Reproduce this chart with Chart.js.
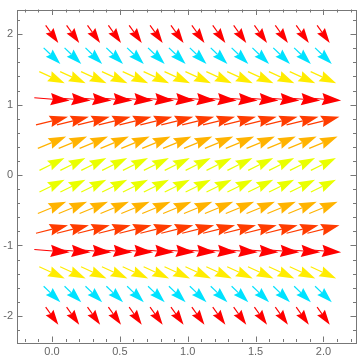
<!DOCTYPE html>
<html>
<head>
<meta charset="utf-8">
<script src="https://cdn.jsdelivr.net/npm/chart.js@4/dist/chart.umd.min.js"></script>
<style>
  html, body { margin: 0; padding: 0; background: #fff; }
  #wrap { width: 360px; height: 360px; }
</style>
</head>
<body>
<div id="wrap"><canvas id="field"></canvas></div>
<script>
'use strict';

// grid of sample points
const xValues = [0, 0.154, 0.308, 0.462, 0.615, 0.769, 0.923, 1.077, 1.231, 1.385, 1.538, 1.692, 1.846, 2];
const yValues = [2, 1.692, 1.385, 1.077, 0.769, 0.462, 0.154, -0.154, -0.462, -0.769, -1.077, -1.385, -1.692, -2];

// vector components per row (field only depends on y)
const rowU = [0.093, 0.123, 0.188, 0.261, 0.236, 0.209, 0.185, 0.185, 0.209, 0.236, 0.261, 0.188, 0.123, 0.093];
const rowV = [-0.25, -0.228, -0.166, -0.04, 0.115, 0.167, 0.175, 0.175, 0.167, 0.115, -0.04, -0.166, -0.228, -0.25];
const rowColors = ['#ff0000', '#00e2ff', '#ffec00', '#ff0000', '#ff3c00', '#ffb300', '#eaff00',
                   '#eaff00', '#ffb300', '#ff3c00', '#ff0000', '#ffec00', '#00e2ff', '#ff0000'];

// tick labels
const xTickValues = [0, 0.5, 1, 1.5, 2];
const yTickValues = [-2, -1, 0, 1, 2];

const FRAME = '#777777';
const LABEL = '#666666';

// ==================== ARROWS ====================

const arrowPlugin = {
    id: 'arrows',
    afterDatasetsDraw(chart) {
        const { ctx, scales: { x, y } } = chart;
        ctx.save();
        chart.data.datasets.forEach((ds, r) => {
            const u = rowU[r], v = rowV[r];
            ds.data.forEach(p => {
                const x0 = x.getPixelForValue(p.x - u / 2);
                const y0 = y.getPixelForValue(p.y - v / 2);
                const x1 = x.getPixelForValue(p.x + u / 2);
                const y1 = y.getPixelForValue(p.y + v / 2);
                drawArrow(ctx, x0, y0, x1, y1, ds.borderColor);
            });
        });
        ctx.restore();
    }
};

function drawArrow(ctx, x0, y0, x1, y1, color) {
    const dx = x1 - x0, dy = y1 - y0;
    const len = Math.hypot(dx, dy);
    const ux = dx / len, uy = dy / len;
    const px = -uy, py = ux;
    const head = 0.3 * len + 8.5;
    const half = head * 0.32;
    const bx = x1 - ux * head, by = y1 - uy * head;
    const nx = x1 - ux * head * 0.88, ny = y1 - uy * head * 0.88;

    ctx.strokeStyle = color;
    ctx.fillStyle = color;
    ctx.lineWidth = 1.2;
    ctx.beginPath();
    ctx.moveTo(x0, y0);
    ctx.lineTo(nx, ny);
    ctx.stroke();

    ctx.beginPath();
    ctx.moveTo(x1, y1);
    ctx.lineTo(bx + px * half, by + py * half);
    ctx.lineTo(nx, ny);
    ctx.lineTo(bx - px * half, by - py * half);
    ctx.closePath();
    ctx.fill();
}

// ==================== FRAME + TICKS ====================

const framePlugin = {
    id: 'frame',
    afterDraw(chart) {
        const { ctx, chartArea: a, scales: { x, y } } = chart;
        ctx.save();
        ctx.strokeStyle = FRAME;
        ctx.lineWidth = 1;
        ctx.strokeRect(Math.round(a.left) + 0.5, Math.round(a.top) + 0.5,
                       Math.round(a.right - a.left), Math.round(a.bottom - a.top));
        ctx.beginPath();
        for (let i = -2; i <= 22; i++) {
            const v = i / 10;
            const px = Math.round(x.getPixelForValue(v)) + 0.5;
            if (px <= a.left + 1 || px >= a.right - 1) continue;
            const l = i % 5 === 0 ? 5.5 : 3;
            ctx.moveTo(px, a.bottom); ctx.lineTo(px, a.bottom - l);
            ctx.moveTo(px, a.top); ctx.lineTo(px, a.top + l);
        }
        for (let i = -11; i <= 11; i++) {
            const v = i / 5;
            const py = Math.round(y.getPixelForValue(v)) + 0.5;
            if (py <= a.top + 1 || py >= a.bottom - 1) continue;
            const l = i % 5 === 0 ? 5.5 : 3;
            ctx.moveTo(a.left, py); ctx.lineTo(a.left + l, py);
            ctx.moveTo(a.right, py); ctx.lineTo(a.right - l, py);
        }
        ctx.stroke();
        ctx.restore();
    }
};

// ==================== CHART ====================

const datasets = yValues.map((yv, r) => ({
    data: xValues.map(xv => ({ x: xv, y: yv })),
    borderColor: rowColors[r],
    backgroundColor: rowColors[r],
    pointRadius: 0,
    showLine: false
}));

const tickFont = { family: 'Liberation Sans', size: 11, lineHeight: 1 };

new Chart(document.getElementById('field').getContext('2d'), {
    type: 'scatter',
    data: { datasets },
    plugins: [arrowPlugin, framePlugin],
    options: {
        responsive: true,
        maintainAspectRatio: false,
        devicePixelRatio: 1,
        animation: false,
        layout: { padding: { top: 2, right: 4, left: 0, bottom: 0 } },
        scales: {
            x: {
                type: 'linear',
                min: -0.258,
                max: 2.24,
                afterBuildTicks: s => { s.ticks = xTickValues.map(v => ({ value: v })); },
                afterFit: s => { s.height = 18; },
                ticks: {
                    color: LABEL,
                    font: tickFont,
                    padding: 4,
                    maxRotation: 0,
                    autoSkip: false,
                    callback: v => v.toFixed(1)
                },
                grid: { display: false, drawTicks: false },
                border: { display: false }
            },
            y: {
                type: 'linear',
                min: -2.37,
                max: 2.35,
                afterBuildTicks: s => { s.ticks = yTickValues.map(v => ({ value: v })); },
                afterFit: s => { s.width = 17; },
                ticks: {
                    color: LABEL,
                    font: tickFont,
                    padding: 4,
                    autoSkip: false,
                    callback: v => String(v)
                },
                grid: { display: false, drawTicks: false },
                border: { display: false }
            }
        },
        plugins: {
            legend: { display: false },
            tooltip: { enabled: false }
        }
    }
});
</script>
</body>
</html>
